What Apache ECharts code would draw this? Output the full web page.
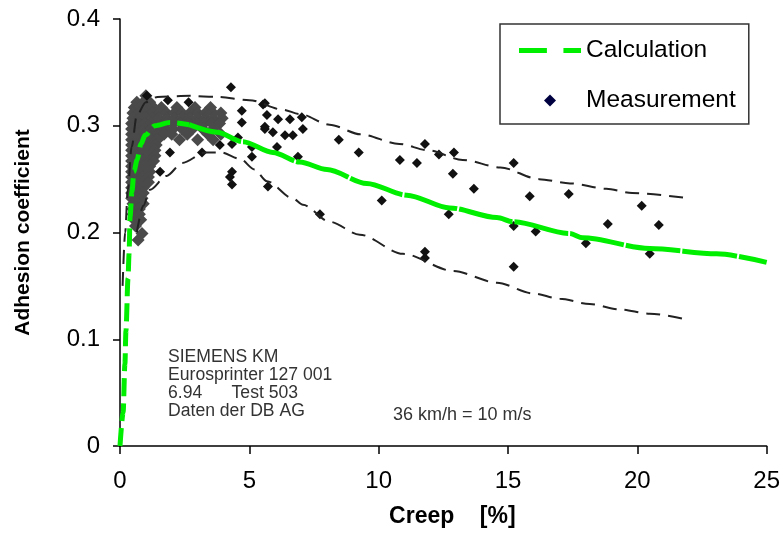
<!DOCTYPE html>
<html>
<head>
<meta charset="utf-8">
<script src="https://cdn.jsdelivr.net/npm/echarts@6/dist/echarts.min.js"></script>
<style>
  html, body { margin: 0; padding: 0; background: #fff; }
  #adhesion { width: 783px; height: 542px; }
</style>
</head>
<body>
<div id="adhesion"></div>
<script>
// calculated adhesion curve (creep %, coefficient)
const calcRise = [
  [0, 0], [0.12, 0.031], [0.19, 0.077], [0.23, 0.108], [0.31, 0.157], [0.35, 0.18],
  [0.39, 0.215], [0.46, 0.238], [0.54, 0.257], [0.66, 0.268], [0.81, 0.283],
  [0.97, 0.291], [1.35, 0.3], [1.93, 0.303], [2.67, 0.301]
]
const calcTail = [
  [2.67, 0.301], [3.75, 0.294], [4.75, 0.285], [5.91, 0.275], [6.95, 0.266], [8.0, 0.259],
  [9.54, 0.246], [11.09, 0.235], [12.75, 0.223], [14.57, 0.214], [15.19, 0.21],
  [17.39, 0.199], [17.89, 0.195], [20.48, 0.185], [23.07, 0.18], [25, 0.172]
]
// dashed scatter band
const upperBound = [
  [0.1, 0.15], [0.2, 0.2], [0.3, 0.24], [0.45, 0.28], [0.65, 0.31], [1.0, 0.322],
  [1.45, 0.327], [2.7, 0.328], [3.75, 0.327], [5.0, 0.324], [6.3, 0.315], [6.95, 0.311],
  [8.1, 0.301], [9.3, 0.292], [10.8, 0.283], [11.9, 0.277], [13.25, 0.268], [14.7, 0.261],
  [16.2, 0.25], [17.4, 0.246], [18.8, 0.241], [19.8, 0.237], [22.0, 0.232]
]
const lowerBound = [
  [0.65, 0.2], [0.9, 0.225], [1.16, 0.24], [1.8, 0.253], [2.4, 0.265], [3.3, 0.275],
  [3.9, 0.275], [4.64, 0.269], [5.2, 0.259], [5.68, 0.248], [6.68, 0.232], [7.07, 0.226],
  [8.11, 0.21], [9.27, 0.198], [10.94, 0.18], [12.87, 0.164], [14.57, 0.153], [15.96, 0.143],
  [17.0, 0.138], [18.16, 0.133], [19.32, 0.128], [20.48, 0.124], [22.0, 0.118]
]
// dense measurement cloud near the peak: [coefficient, creep values]
const clusterRows = [
  [0.328, [1.0]],
  [0.322, [0.65, 0.9, 1.15]],
  [0.317, [0.55, 0.8, 1.05, 1.3, 1.6, 2.2, 2.9, 3.5]],
  [0.312, [0.5, 0.75, 1.0, 1.25, 1.5, 1.8, 2.1, 2.4, 2.7, 3.0, 3.3, 3.6, 3.9]],
  [0.307, [0.5, 0.75, 1.0, 1.25, 1.5, 1.8, 2.1, 2.4, 2.7, 3.0, 3.3, 3.6, 3.95]],
  [0.302, [0.45, 0.7, 0.95, 1.2, 1.45, 1.75, 2.05, 2.35, 2.65, 2.95, 3.25, 3.55, 3.85]],
  [0.297, [0.45, 0.7, 0.95, 1.2, 1.45, 1.75, 2.05, 2.4, 2.8, 3.2, 3.6]],
  [0.292, [0.45, 0.7, 0.95, 1.2, 1.45, 1.7, 2.0, 2.6, 3.4, 3.9]],
  [0.287, [0.45, 0.7, 0.95, 1.2, 1.45, 2.3, 3.0, 3.6]],
  [0.282, [0.45, 0.65, 0.9, 1.15, 1.4]],
  [0.277, [0.45, 0.65, 0.9, 1.15, 1.35]],
  [0.272, [0.45, 0.65, 0.9, 1.15, 1.35]],
  [0.267, [0.45, 0.65, 0.9, 1.15, 1.3]],
  [0.262, [0.45, 0.65, 0.9, 1.15]],
  [0.257, [0.45, 0.65, 0.9, 1.15]],
  [0.252, [0.45, 0.65, 0.9, 1.1]],
  [0.247, [0.45, 0.65, 0.9, 1.1]],
  [0.242, [0.45, 0.65, 0.9]],
  [0.237, [0.45, 0.65, 0.9]],
  [0.232, [0.45, 0.65, 0.85]],
  [0.227, [0.5, 0.7, 0.9]],
  [0.222, [0.5, 0.75]],
  [0.217, [0.5, 0.75]],
  [0.212, [0.55, 0.8]],
  [0.206, [0.6]],
  [0.199, [0.85]],
  [0.193, [0.7]]
]
// individual measurements
const measurePoints = [
  [1.04, 0.328], [1.85, 0.324], [2.65, 0.322], [1.93, 0.275], [1.55, 0.257],
  [4.29, 0.336], [5.53, 0.32], [4.71, 0.314], [5.6, 0.299], [4.71, 0.303], [4.56, 0.289],
  [5.1, 0.28], [4.33, 0.283], [3.86, 0.282], [3.17, 0.275], [5.1, 0.271], [4.33, 0.257],
  [4.25, 0.252], [4.33, 0.245], [5.72, 0.243],
  [5.6, 0.321], [5.68, 0.31], [6.11, 0.306], [6.57, 0.306], [7.03, 0.308], [5.6, 0.297],
  [5.91, 0.294], [6.38, 0.291], [6.68, 0.291], [7.07, 0.297], [6.07, 0.28], [6.88, 0.271],
  [8.46, 0.287], [9.23, 0.275], [7.73, 0.217],
  [10.82, 0.268], [11.48, 0.265], [11.79, 0.283], [12.33, 0.273], [12.91, 0.275],
  [12.87, 0.255], [13.68, 0.241], [15.22, 0.265], [15.84, 0.234], [17.35, 0.236],
  [10.12, 0.23], [12.71, 0.217], [15.22, 0.206], [16.07, 0.201], [11.79, 0.182],
  [11.79, 0.176], [15.22, 0.168], [20.17, 0.225], [18.86, 0.208], [20.83, 0.207],
  [18.01, 0.19], [20.48, 0.18]
]
const xTicks = { min: 0, max: 25, step: 5 }
const yTicks = { min: 0, max: 0.4, step: 0.1 }

const fontFamily = 'Liberation Sans, Arial, sans-serif'
const clusterPoints = []
clusterRows.forEach(row => {
  row[1].forEach(x => clusterPoints.push([x, row[0]]))
})

const lineDefaults = {
  type: 'line',
  symbol: 'none',
  smooth: 0.3,
  smoothMonotone: 'x',
  silent: true
}

let myChart = echarts.init(document.getElementById('adhesion'), null, { renderer: 'canvas' })
let option = {
  animation: false,
  backgroundColor: '#fff',
  grid: { left: 120, right: 16, top: 19, bottom: 96 },
  legend: {
    data: [
      {
        name: 'Calculation',
        icon: 'path://M0,0H27V5H0Z M43,0H60V5H43Z',
        itemStyle: { color: '#00ee00' }
      },
      {
        name: 'Measurement',
        icon: 'path://M5,0L10,5L5,10L0,5Z',
        itemStyle: { color: '#000040', opacity: 1 }
      }
    ],
    orient: 'vertical',
    left: 500,
    top: 24,
    padding: [14, 13, 11, 19],
    itemGap: 25,
    itemWidth: 62,
    itemHeight: 12,
    symbolKeepAspect: true,
    borderColor: '#333',
    borderWidth: 1.5,
    backgroundColor: '#fff',
    selectedMode: false,
    textStyle: { fontSize: 24.5, color: '#000', fontFamily: fontFamily }
  },
  xAxis: {
    type: 'value',
    min: xTicks.min,
    max: xTicks.max,
    interval: xTicks.step,
    name: 'Creep    [%]',
    nameLocation: 'middle',
    nameGap: 59,
    nameTextStyle: { fontSize: 23, fontWeight: 'bold', color: '#000', fontFamily: fontFamily, padding: [0, 0, 0, 18] },
    axisLine: { lineStyle: { color: '#000', width: 1.5 } },
    axisTick: { length: 8, lineStyle: { color: '#000', width: 1.5 } },
    axisLabel: { fontSize: 24, color: '#000', margin: 23, fontFamily: fontFamily },
    splitLine: { show: false }
  },
  yAxis: {
    type: 'value',
    min: yTicks.min,
    max: yTicks.max,
    interval: yTicks.step,
    name: 'Adhesion coefficient',
    nameLocation: 'middle',
    nameGap: 86,
    nameTextStyle: { fontSize: 21, fontWeight: 'bold', color: '#000', fontFamily: fontFamily },
    axisLine: { show: true, lineStyle: { color: '#000', width: 1.5 } },
    axisTick: { show: true, length: 7, lineStyle: { color: '#000', width: 1.5 } },
    axisLabel: { fontSize: 24, color: '#000', margin: 20, fontFamily: fontFamily },
    splitLine: { show: false }
  },
  graphic: [
    {
      type: 'text',
      left: 168,
      top: 348,
      silent: true,
      style: {
        text: 'SIEMENS KM\nEurosprinter 127 001\n6.94      Test 503\nDaten der DB AG',
        font: '17.6px ' + fontFamily,
        lineHeight: 18,
        fill: '#333'
      }
    },
    {
      type: 'text',
      left: 393,
      top: 406,
      silent: true,
      style: {
        text: '36 km/h = 10 m/s',
        font: '18px ' + fontFamily,
        fill: '#333'
      }
    }
  ],
  series: [
    {
      name: 'Measurement',
      type: 'scatter',
      symbol: 'diamond',
      symbolSize: 13,
      z: 1,
      silent: true,
      itemStyle: { color: '#4a4a4a', opacity: 1 },
      data: clusterPoints
    },
    {
      name: 'Measurement',
      type: 'scatter',
      symbol: 'diamond',
      symbolSize: 10,
      z: 2,
      silent: true,
      itemStyle: { color: '#111', opacity: 1 },
      data: measurePoints
    },
    Object.assign({}, lineDefaults, {
      name: 'upper',
      z: 3,
      lineStyle: { color: '#222', width: 2, type: [14, 8] },
      data: upperBound
    }),
    Object.assign({}, lineDefaults, {
      name: 'lower',
      z: 3,
      lineStyle: { color: '#222', width: 2, type: [14, 8] },
      data: lowerBound
    }),
    Object.assign({}, lineDefaults, {
      name: 'Calculation',
      z: 4,
      color: '#00ee00',
      lineStyle: { color: '#00ee00', width: 5, type: [18, 7] },
      data: calcRise
    }),
    Object.assign({}, lineDefaults, {
      name: 'Calculation',
      z: 4,
      color: '#00ee00',
      lineStyle: { color: '#00ee00', width: 5, type: [55, 2] },
      data: calcTail
    })
  ]
}
myChart.setOption(option)
</script>
</body>
</html>
